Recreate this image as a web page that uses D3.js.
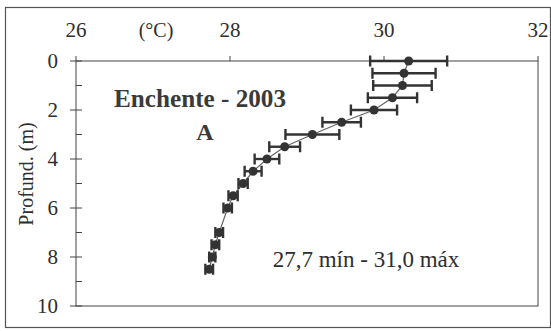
<!DOCTYPE html>
<html><head>
<script src="https://cdn.jsdelivr.net/npm/d3@7"></script>
</head>
<body style="margin:0">
<svg id="c" width="551" height="331"></svg>
<script>
// Data
const depths = [0, 0.5, 1, 1.5, 2, 2.5, 3, 3.5, 4, 4.5, 5, 5.5, 6, 7, 7.5, 8, 8.5];
const temps  = [30.32, 30.26, 30.24, 30.11, 29.87, 29.45, 29.07, 28.71, 28.48, 28.30, 28.17, 28.04, 27.97, 27.86, 27.81, 27.77, 27.73];
const errs   = [0.50, 0.41, 0.38, 0.32, 0.30, 0.25, 0.35, 0.20, 0.16, 0.11, 0.06, 0.06, 0.055, 0.05, 0.05, 0.04, 0.05];
const xTicks = [26, 28, 30, 32];
const yTicks = [0, 2, 4, 6, 8, 10];
const yMinorTicks = [1, 3, 5, 7, 9];
const xUnit = "(°C)";
const yTitle = "Profund. (m)";
const title = "Enchente - 2003";
const subtitle = "A";
const note = "27,7 mín - 31,0 máx";

const svg = d3.select("#c");
const ink = "#2e2e2e";
const serifFamily = "'Liberation Serif'";

// outer frame
svg.append("rect").attr("x",5.5).attr("y",7.5).attr("width",545).attr("height",320)
  .attr("fill","none").attr("stroke","#555").attr("stroke-width",1.2);

const x = d3.scaleLinear().domain([26,32]).range([76,538]);
const y = d3.scaleLinear().domain([0,10]).range([61,306]);

// plot box
svg.append("rect").attr("x",x(26)).attr("y",y(0)).attr("width",x(32)-x(26)).attr("height",y(10)-y(0))
  .attr("fill","none").attr("stroke","#444").attr("stroke-width",1);

// top axis ticks (outward)
svg.append("g").selectAll("line").data(xTicks).join("line")
  .attr("x1",d=>x(d)).attr("x2",d=>x(d)).attr("y1",y(0)-5).attr("y2",y(0))
  .attr("stroke","#444").attr("stroke-width",1);

// left axis ticks
svg.append("g").selectAll("line").data(yTicks).join("line")
  .attr("x1",x(26)-6).attr("x2",x(26)+6).attr("y1",d=>y(d)).attr("y2",d=>y(d))
  .attr("stroke","#444").attr("stroke-width",1);
svg.append("g").selectAll("line").data(yMinorTicks).join("line")
  .attr("x1",x(26)).attr("x2",x(26)+6).attr("y1",d=>y(d)).attr("y2",d=>y(d))
  .attr("stroke","#444").attr("stroke-width",1);

const pts = depths.map((d,i)=>({d, t:temps[i], e:errs[i]}));

// connecting line
svg.append("path").datum(pts)
  .attr("d", d3.line().x(p=>x(p.t)).y(p=>y(p.d)))
  .attr("fill","none").attr("stroke","#666").attr("stroke-width",1.2);

// error bars
const eb = svg.append("g").attr("stroke","#333").attr("stroke-width",2.4);
eb.selectAll("line.h").data(pts).join("line").attr("class","h")
  .attr("x1",p=>x(p.t-p.e)).attr("x2",p=>x(p.t+p.e)).attr("y1",p=>y(p.d)).attr("y2",p=>y(p.d));
eb.selectAll("line.l").data(pts).join("line").attr("class","l")
  .attr("x1",p=>x(p.t-p.e)).attr("x2",p=>x(p.t-p.e)).attr("y1",p=>y(p.d)-5.5).attr("y2",p=>y(p.d)+5.5);
eb.selectAll("line.r").data(pts).join("line").attr("class","r")
  .attr("x1",p=>x(p.t+p.e)).attr("x2",p=>x(p.t+p.e)).attr("y1",p=>y(p.d)-5.5).attr("y2",p=>y(p.d)+5.5);

// markers
svg.append("g").selectAll("circle").data(pts).join("circle")
  .attr("cx",p=>x(p.t)).attr("cy",p=>y(p.d)).attr("r",4.5).attr("fill","#333");

// texts
const labels = [
  ...xTicks.map(d=>({s:String(d), x:x(d), y:37, size:21, anchor:"middle"})),
  {s:xUnit, x:156, y:37, size:20, anchor:"middle"},
  ...yTicks.map(d=>({s:String(d), x:58, y:y(d)+7, size:21, anchor:"end"})),
  {s:title, x:200, y:107, size:25, anchor:"middle", bold:true, len:172},
  {s:subtitle, x:205, y:140, size:24, anchor:"middle", bold:true},
  {s:note, x:366, y:267, size:23, anchor:"middle"}
];
svg.append("g").selectAll("text").data(labels).join("text")
  .attr("x",d=>d.x).attr("y",d=>d.y).attr("font-size",d=>d.size)
  .attr("font-family",serifFamily)
  .attr("text-anchor",d=>d.anchor)
  .attr("font-weight",d=>d.bold?"bold":null)
  .attr("fill",d=>d.bold?"#3a3a3a":ink)
  .attr("textLength",d=>d.len||null)
  .attr("lengthAdjust",d=>d.len?"spacingAndGlyphs":null)
  .text(d=>d.s);
svg.append("text").attr("transform","translate(33,174) rotate(-90)")
  .attr("font-family",serifFamily)
  .attr("text-anchor","middle").attr("font-size",20).attr("fill",ink).text(yTitle);
</script>
</body></html>
